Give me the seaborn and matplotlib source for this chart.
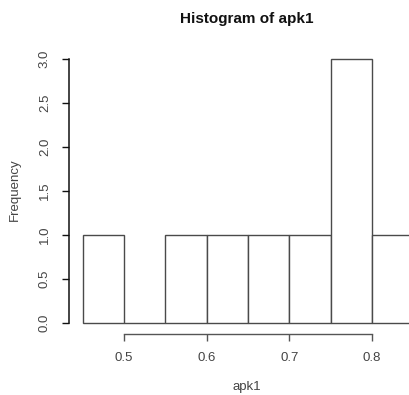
import matplotlib
matplotlib.use("Agg")
import matplotlib.pyplot as plt
import seaborn as sns
import numpy as np

# Data
bin_edges = [0.45, 0.50, 0.55, 0.60, 0.65, 0.70, 0.75, 0.80, 0.85]
counts = [1, 0, 1, 1, 1, 1, 3, 1]
x_ticks = [0.5, 0.6, 0.7, 0.8]
y_ticks = [0.0, 0.5, 1.0, 1.5, 2.0, 2.5, 3.0]
title = "Histogram of apk1"
xlabel = "apk1"
ylabel = "Frequency"

sns.set_style("white")
plt.rcParams['font.family'] = ['Liberation Sans', 'DejaVu Sans']

centers = [(a + b) / 2 for a, b in zip(bin_edges[:-1], bin_edges[1:])]

fig = plt.figure(figsize=(4.1, 3.95), dpi=100)
ax = fig.add_axes([69 / 410, 0.1711, 1 - 69 / 410, 0.8618 - 0.1711])

sns.histplot(x=centers, weights=counts, bins=bin_edges, ax=ax,
             color="white", edgecolor="#4a4a4a", linewidth=1.0, alpha=1)

ax.set_xlim(0.4335, 0.846)
ax.set_ylim(-0.05, 3.05)

for s in ["top", "right"]:
    ax.spines[s].set_visible(False)
ax.spines["left"].set_bounds(0, 3)
ax.spines["left"].set_color("#111111")
ax.spines["left"].set_linewidth(1.1)
ax.spines["bottom"].set_position(("outward", 4.75))
ax.spines["bottom"].set_bounds(0.5, 0.8)
ax.spines["bottom"].set_color("#555555")
ax.spines["bottom"].set_linewidth(1.0)

ax.set_xticks(x_ticks)
ax.set_xticklabels([f"{v:.1f}" for v in x_ticks])
ax.set_yticks(y_ticks)
ax.set_yticklabels([f"{v:.1f}" for v in y_ticks])
ax.tick_params(axis="both", direction="out", length=5, width=1.0,
               colors="#555555", labelcolor="#444444", labelsize=9.5, pad=8,
               bottom=True, left=True)
ax.tick_params(axis="y", colors="#111111", labelcolor="#444444")
plt.setp(ax.get_yticklabels(), rotation=90, va="center")
ax.set_xlabel("")
ax.set_ylabel("")

fig.text(247 / 410, 1 - 19 / 395, title, ha="center", va="center",
         fontsize=11, fontweight="bold", color="#111111")
fig.text(247 / 410, 1 - 387 / 395, xlabel, ha="center", va="center",
         fontsize=9.5, color="#444444")
fig.text(15 / 410, 1 - 190 / 395, ylabel, ha="center", va="center",
         rotation=90, fontsize=9.5, color="#444444")

fig.savefig("out.png", dpi=100)
